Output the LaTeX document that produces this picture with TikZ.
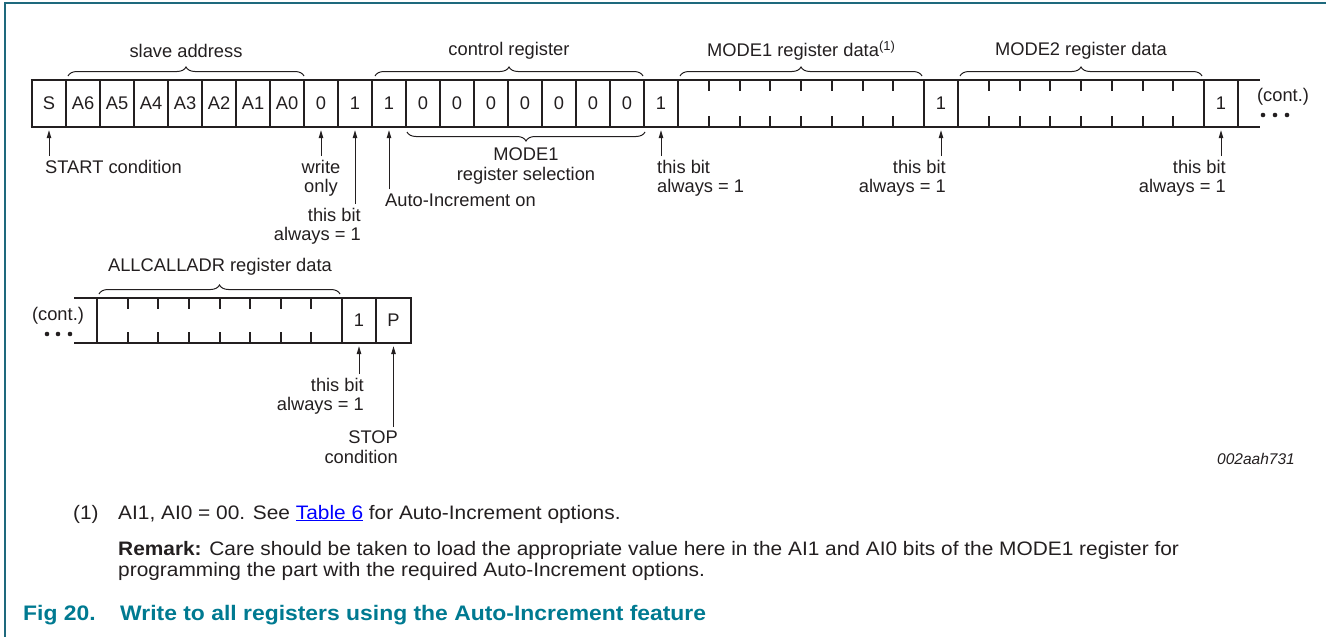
\documentclass[tikz,border=0pt]{standalone}
\usepackage{fontspec}
\setmainfont{Liberation Sans}
\newfontfamily\notefont[FakeStretch=1.07]{Liberation Sans}
\newfontfamily\captfont[FakeStretch=1.09]{Liberation Sans}
\usetikzlibrary{decorations.pathreplacing,arrows.meta}
\definecolor{ink}{RGB}{35,31,32}
\definecolor{nxpteal}{RGB}{0,122,145}
\definecolor{framecol}{RGB}{30,105,125}
\definecolor{linkblue}{RGB}{0,0,255}
\tikzset{
  lbl/.style={text=ink, inner sep=0pt, font=\fontsize{18.3}{19.5}\selectfont},
  cell/.style={lbl, minimum width=34pt, minimum height=47pt},
  wide/.style={lbl, minimum width=246pt, minimum height=47pt},
  box/.style={line width=2.6pt, draw=ink},
  tick/.style={line width=2pt, draw=ink},
  brc/.style={draw=ink, line width=1pt, decorate, decoration={brace, amplitude=9pt}},
  up/.style={draw=ink, line width=1pt, -{Triangle[length=8pt,width=4.5pt]}, shorten >=3pt, shorten <=4pt},
  note/.style={text=ink, inner sep=0pt, anchor=base west, font=\notefont\fontsize{19.5}{21}\selectfont},
  capt/.style={text=nxpteal, inner sep=0pt, anchor=base west, font=\captfont\fontsize{21}{24}\selectfont\bfseries},
}
\begin{document}
\begin{tikzpicture}[x=1pt,y=-1pt]
\useasboundingbox (0,0) rectangle (1326,637);
% frame
\draw[framecol, line width=1.5pt] (1326,3) -- (5,3) -- (5,637);

% ---------- row 1 ----------
\foreach \t [count=\i from 0] in {S,A6,A5,A4,A3,A2,A1,A0,0,1,1,0,0,0,0,0,0,0,1}
  \node[cell] (c\i) at ({49+34*\i},103.5) {\t};
\node[wide] (d1) at (801,103.5) {};
\node[cell] (m1) at (941,103.5) {1};
\node[wide] (d2) at (1081,103.5) {};
\node[cell] (m2) at (1221,103.5) {1};

\draw[box] (30.7,80) -- (1260,80);
\draw[box] (30.7,127) -- (1260,127);
\foreach \i in {0,...,19} \draw[box] ({32+34*\i},80) -- ({32+34*\i},127);
\foreach \x in {924,958,1204,1238} \draw[box] (\x,80) -- (\x,127);
\foreach \s in {678,958}
  \foreach \k in {1,...,7} {
    \draw[tick] ({\s+30.75*\k},80) -- ++(0,11);
    \draw[tick] ({\s+30.75*\k},127) -- ++(0,-11);
  }
\node[lbl] (ct1) at (1283,97) {(cont.)};
\foreach \x in {1263,1275,1287} \fill[ink] (\x,115) circle (2.3);

% top braces and titles
\draw[brc] (68,76) -- (304,76);
\node[lbl] (tsa) at (186,51) {slave address};
\draw[brc] (375,76) -- (643,76);
\node[lbl] (tcr) at (509,51) {control register};
\draw[brc] (680,76) -- (922,76);
\node[lbl] (tm1) at (801,51) {MODE1 register data\raisebox{6pt}{\fontsize{13}{13}\selectfont(1)}};
\draw[brc] (960,76) -- (1202,76);
\node[lbl] (tm2) at (1081,51) {MODE2 register data};

% bottom brace
\draw[brc] (645,132) -- (407,132);
\node[lbl, align=center, anchor=north] (tsel) at (526,148) {MODE1\\register selection};

% labels and arrows
\node[lbl, anchor=west] (tst) at (45,167) {START condition};
\draw[up] (tst.north -| c0.south) -- (c0.south);
\node[lbl, align=center, anchor=north] (two) at (321,160) {write\\only};
\draw[up] (two.north -| c8.south) -- (c8.south);
\node[lbl, align=right, anchor=north east] (tb1) at (361,208) {this bit\\always = 1};
\draw[up] (tb1.north -| c9.south) -- (c9.south);
\node[lbl, anchor=west] (tai) at (385,200) {Auto-Increment on};
\draw[up] (tai.north -| c10.south) -- (c10.south);
\node[lbl, align=left, anchor=north west] (tb2) at (657,160) {this bit\\always = 1};
\draw[up] (tb2.north -| c18.south) -- (c18.south);
\node[lbl, align=right, anchor=north east] (tb3) at (946,160) {this bit\\always = 1};
\draw[up] (tb3.north -| m1.south) -- (m1.south);
\node[lbl, align=right, anchor=north east] (tb4) at (1226,160) {this bit\\always = 1};
\draw[up] (tb4.north -| m2.south) -- (m2.south);

% ---------- row 2 ----------
\node[lbl] (ct2) at (58,316) {(cont.)};
\foreach \x in {47,58,70} \fill[ink] (\x,334) circle (2.3);
\node[lbl, minimum width=245pt, minimum height=45pt] (d3) at (219.5,320.5) {};
\node[cell, minimum height=45pt] (r1) at (359,320.5) {1};
\node[cell, minimum height=45pt] (rp) at (393.5,320.5) {P};
\draw[box] (74,298) -- (412.3,298);
\draw[box] (74,343) -- (412.3,343);
\foreach \x in {97,342,376,411} \draw[box] (\x,298) -- (\x,343);
\foreach \k in {1,...,7} {
  \draw[tick] ({97+30.625*\k},298) -- ++(0,11);
  \draw[tick] ({97+30.625*\k},343) -- ++(0,-11);
}
\draw[brc] (99,294) -- (340,294);
\node[lbl] (tal) at (220,267) {ALLCALLADR register data};
\node[lbl, align=right, anchor=north east] (tb5) at (364,378) {this bit\\always = 1};
\draw[up] (tb5.north -| r1.south) -- (r1.south);
\node[lbl, align=right, anchor=north east] (tsp) at (398,431) {STOP\\condition};
\draw[up] (tsp.north -| rp.south) -- (rp.south);

\node[lbl, anchor=east, font=\fontsize{15.5}{18}\selectfont\itshape] (code) at (1295,459) {002aah731};

% ---------- notes ----------
\node[note] (fn1) at (73,519) {(1)};
\node[note] (fn2) at (118,519) {AI1, AI0 = 00. See \textcolor{linkblue}{\underline{Table 6}} for Auto-Increment options.};
\node[note] (fn3) at (118,555) {\textbf{Remark:} Care should be taken to load the appropriate value here in the AI1 and AI0 bits of the MODE1 register for};
\node[note] (fn4) at (118,576) {programming the part with the required Auto-Increment options.};
\node[capt] (cap1) at (23,620) {Fig 20.};
\node[capt] (cap2) at (120,620) {Write to all registers using the Auto-Increment feature};
\end{tikzpicture}
\end{document}
